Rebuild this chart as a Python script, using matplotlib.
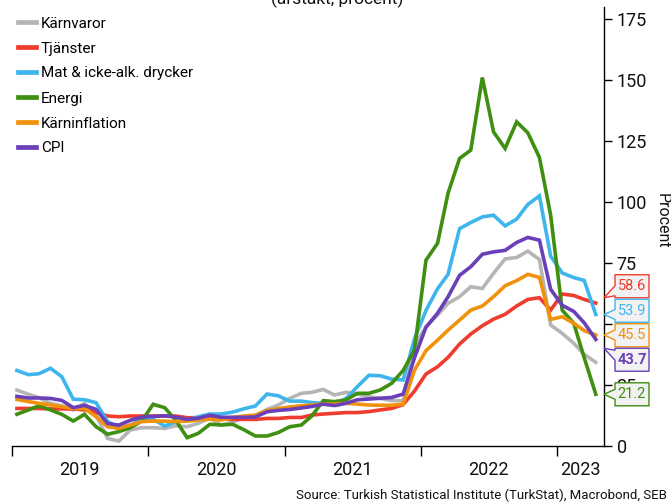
import numpy as np
import pandas as pd
import matplotlib
matplotlib.use("Agg")
import matplotlib.pyplot as plt
import matplotlib.dates as mdates
from matplotlib.patches import Polygon

plt.rcParams['font.family'] = ['Roboto', 'DejaVu Sans']

# Monthly observations, Jan 2019 - Apr 2023 (plotted mid-month)
months = pd.date_range('2019-01-01', periods=52, freq='MS') + pd.Timedelta(days=14)

series_names = ['Kärnvaror', 'Tjänster', 'Mat & icke-alk. drycker',
                'Energi', 'Kärninflation', 'CPI']

karnvaror = [22.9, 21.2, 19.8, 17.5, 16.5, 14.8, 17.5, 12.7, 3.1, 2.0, 6.6, 7.5,
             7.5, 7.2, 8.3, 7.9, 9.3, 11.5, 8.6, 9.8, 11.7, 12.3, 15.0, 16.8,
             19.5, 21.6, 22.0, 23.2, 20.9, 22.0, 21.3, 20.2, 19.5, 18.6, 18.6, 41.0,
             48.9, 53.7, 58.5, 61.2, 65.3, 64.6, 70.8, 76.7, 77.3, 79.9, 76.5, 49.6,
             46.2, 42.1, 37.6, 34.3]

tjanster = [15.4, 15.4, 15.4, 15.2, 15.2, 15.2, 14.8, 13.8, 12.3, 12.0, 12.3, 12.3,
            12.3, 12.3, 12.3, 11.6, 11.6, 11.6, 11.3, 10.9, 10.9, 10.9, 11.3, 11.3,
            11.7, 11.7, 12.7, 13.1, 13.4, 13.7, 13.7, 14.1, 14.8, 15.4, 17.0, 22.5,
            29.5, 32.5, 36.3, 41.8, 45.9, 49.3, 52.0, 54.0, 57.4, 60.1, 60.8, 55.7,
            62.3, 61.7, 60.1, 58.6]

mat = [30.97, 29.25, 29.64, 31.86, 28.44, 19.20, 18.98, 17.76, 10.0, 7.5, 8.5, 10.9,
       10.96, 8.18, 9.92, 10.6, 12.0, 13.1, 13.1, 13.9, 15.3, 16.4, 21.3, 20.6,
       18.4, 18.4, 17.8, 17.5, 17.2, 19.5, 24.3, 29.0, 28.8, 27.4, 27.1, 43.80,
       55.61, 64.47, 70.33, 89.10, 91.63, 93.93, 94.65, 90.25, 93.05, 99.05, 102.55, 77.87,
       70.95, 69.05, 67.89, 53.92]

energi = [13.0, 14.8, 16.5, 14.8, 13.0, 10.2, 13.0, 7.9, 4.8, 5.9, 7.5, 10.2,
          17.1, 15.7, 10.7, 3.4, 5.2, 8.9, 8.6, 8.9, 6.6, 4.1, 4.1, 5.5,
          7.9, 8.6, 12.3, 18.6, 18.2, 18.9, 21.6, 21.6, 23.0, 25.7, 31.0, 39.3,
          76.2, 83.1, 103.6, 117.9, 121.3, 151.1, 128.8, 122.0, 132.9, 128.4, 118.3, 94.7,
          55.7, 50.3, 36.2, 21.2]

karninflation = [19.1, 18.2, 17.5, 16.8, 16.1, 15.4, 15.4, 12.0, 7.9, 7.2, 8.6, 10.0,
                 10.2, 10.2, 10.0, 10.2, 10.7, 11.0, 10.7, 11.7, 12.3, 12.7, 14.5, 15.3,
                 16.0, 16.5, 16.8, 17.2, 17.2, 17.5, 17.2, 16.8, 16.7, 16.7, 17.2, 31.0,
                 39.1, 43.4, 47.5, 51.6, 55.7, 57.4, 61.2, 65.7, 67.8, 70.4, 69.1, 51.9,
                 53.0, 50.3, 47.3, 45.5]

cpi = [20.35, 19.67, 19.71, 19.50, 18.71, 15.72, 16.65, 15.01, 9.26, 8.55, 10.56, 11.84,
       12.15, 12.37, 11.86, 10.94, 11.39, 12.62, 11.76, 11.77, 11.75, 11.89, 14.03, 14.60,
       14.97, 15.61, 16.19, 17.14, 16.59, 17.53, 18.95, 19.25, 19.58, 19.89, 21.31, 36.08,
       48.69, 54.44, 61.14, 69.97, 73.50, 78.62, 79.60, 80.21, 83.45, 85.51, 84.39, 64.27,
       57.68, 55.18, 50.51, 43.70]

series_values = [karnvaror, tjanster, mat, energi, karninflation, cpi]
colors = ['#b5b5b5', '#f03c2f', '#3fb5ee', '#3f8f10', '#f0920c', '#6a3fb8']
bold_last = [False, False, False, False, False, True]
label_series = [1, 2, 4, 5, 3]   # series with end-value callouts

year_ticks = ['2019', '2020', '2021', '2022', '2023']
y_ticks = [0, 25, 50, 75, 100, 125, 150, 175]

W, H = 671, 503
fig = plt.figure(figsize=(W / 100, H / 100), dpi=100)
ax = fig.add_axes([11.7 / W, 57 / H, (604 - 11.7) / W, 439 / H])

for name, vals, c in zip(series_names, series_values, colors):
    ax.plot(months, vals, color=c, lw=2.6, label=name, solid_joinstyle='miter')

x0 = pd.Timestamp('2019-01-01')
x1 = pd.Timestamp('2023-05-07')
ax.set_xlim(x0, x1)
ax.set_ylim(0, 180)

# spines
for s in ['left', 'top']:
    ax.spines[s].set_visible(False)
ax.spines['bottom'].set_linewidth(1.0)
ax.spines['right'].set_linewidth(1.0)

# y axis on the right
ax.yaxis.tick_right()
ax.set_yticks(y_ticks)
ax.set_yticklabels([str(t) for t in y_ticks])
ax.tick_params(axis='y', which='major', direction='out', length=6, width=1,
               pad=3, labelsize=13, labelcolor='#111111')

# x axis: ticks at year boundaries, labels centred within each year
year_starts = [pd.Timestamp(f'{y}-01-01') for y in year_ticks]
ax.set_xticks(year_starts)
ax.set_xticklabels([''] * len(year_starts))
ax.tick_params(axis='x', which='major', direction='out', length=7, width=1)
mids = []
for i, ys in enumerate(year_starts):
    end = year_starts[i + 1] if i + 1 < len(year_starts) else x1
    mids.append(ys + (end - ys) / 2)
ax.set_xticks(mids, minor=True)
ax.set_xticklabels(year_ticks, minor=True)
ax.tick_params(axis='x', which='minor', length=0, pad=10.5, labelsize=13,
               labelcolor='#111111')

# legend
leg = ax.legend(loc='upper left', bbox_to_anchor=(18 / W, 1 - 16.5 / H),
                bbox_transform=fig.transFigure, frameon=False, fontsize=11,
                handlelength=1.15, handletextpad=0.35, labelspacing=0.72,
                borderpad=0, borderaxespad=0)
for h in leg.get_lines():
    h.set_linewidth(3.4)

fig.text(662 / W, 1 - 221 / H, 'Procent', rotation=270, ha='center',
         va='center', fontsize=11.5, color='#111111')
fig.text(337 / W, 1 - 3 / H, '(årstakt, procent)', ha='center',
         va='baseline', fontsize=12.5, color='#111111')
fig.text(667 / W, 1 - 495 / H,
         'Source: Turkish Statistical Institute (TurkStat), Macrobond, SEB',
         ha='right', va='center', fontsize=9.5, color='#111111')

# end-value callouts, stacked so they don't overlap
fig.canvas.draw()
pitch, bh = 24.5, 23.0
items = []
for k in label_series:
    v = series_values[k][-1]
    yd = ax.transData.transform((mdates.date2num(months[-1]), v))[1]
    items.append([yd, k, v])
items.sort(key=lambda t: -t[0])

clusters = []
for it in items:
    clusters.append({'members': [it], 'center': it[0]})
    while len(clusters) > 1:
        a, b = clusters[-2], clusters[-1]
        a_low = a['center'] - (len(a['members']) - 1) * pitch / 2
        b_high = b['center'] + (len(b['members']) - 1) * pitch / 2
        if a_low - b_high < pitch:
            mem = a['members'] + b['members']
            clusters[-2:] = [{'members': mem,
                              'center': np.mean([m[0] for m in mem])}]
        else:
            break

left, right, tip_x = 615.0, 649.0, 604.0
for cl in clusters:
    n = len(cl['members'])
    for j, (yd, k, v) in enumerate(cl['members']):
        cy = cl['center'] + (n - 1) * pitch / 2 - j * pitch
        top, bot = cy + bh / 2, cy - bh / 2
        ty = min(max(yd, bot), top)
        ac = min(max(ty, bot + 7), top - 7)
        pts = [(left, top), (right, top), (right, bot), (left, bot),
               (left, ac - 5), (tip_x, ty), (left, ac + 5)]
        pts = [(px / W, py / H) for px, py in pts]
        fig.add_artist(Polygon(pts, closed=True, transform=fig.transFigure,
                               facecolor='#f2f2f2', edgecolor=colors[k],
                               lw=1.0, joinstyle='miter'))
        fig.text((left + right) / 2 / W, cy / H, f'{v:.1f}', ha='center',
                 va='center', fontsize=10.5, color=colors[k],
                 fontweight='bold' if bold_last[k] else 'normal')

fig.savefig('out.png', dpi=100)
